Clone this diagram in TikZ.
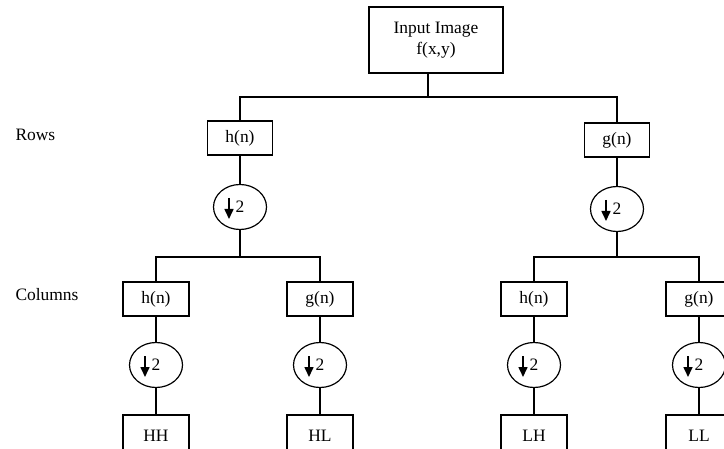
\documentclass[tikz,border=0pt]{standalone}
\usepackage{fontspec}
\setmainfont{Liberation Serif}
\usetikzlibrary{shapes.geometric,arrows.meta,calc}

\begin{document}
\begin{tikzpicture}[x=1bp,y=-1bp,
    font=\fontsize{17.5}{21}\selectfont,
    box/.style={draw,line width=1.2bp,minimum width=66bp,minimum height=34bp,inner sep=0pt},
    down/.style={draw,ellipse,line width=1.2bp,minimum width=53bp,minimum height=45bp,inner sep=0pt},
    wire/.style={line width=1.2bp}]
    \useasboundingbox (0,0) rectangle (724,449);
    \clip (0,0) rectangle (724,449);
    % input and labels
    \node[box,minimum width=134bp,minimum height=66bp,align=center] (in) at (436,40) {Input Image\\f(x,y)};
    \node[anchor=west] (rows) at (12,135) {Rows};
    \node[anchor=west] (cols) at (12,295) {Columns};
    % rows
    \node[box,minimum width=65bp] (rh) at (240,138) {h(n)};
    \node[box,minimum width=65bp] (rg) at (617,140) {g(n)};
    \node[down] (rhd) at (240,207) {2};
    \node[down] (rgd) at (617,209) {2};
    % columns
    \node[box] (ch1) at (156,299) {h(n)};
    \node[box] (cg1) at (320,299) {g(n)};
    \node[box] (ch2) at (534,299) {h(n)};
    \node[box] (cg2) at (699,299) {g(n)};
    \node[down] (ch1d) at (156,365) {2};
    \node[down] (cg1d) at (320,365) {2};
    \node[down] (ch2d) at (534,365) {2};
    \node[down] (cg2d) at (699,365) {2};
    % outputs
    \node[box,minimum height=42bp] (hh) at (156,436) {HH};
    \node[box,minimum height=42bp] (hl) at (320,436) {HL};
    \node[box,minimum height=42bp] (lh) at (534,436) {LH};
    \node[box,minimum height=42bp] (ll) at (699,436) {LL};
    % connectors
    \coordinate (j0) at (428,97);
    \coordinate (j1) at (240,257);
    \coordinate (j2) at (617,257);
    \draw[wire] (in.south -| j0) -- (j0);
    \draw[wire] (rh.north) |- (j0) -| (rg.north);
    \draw[wire] (rh) -- (rhd) -- (j1);
    \draw[wire] (rg) -- (rgd) -- (j2);
    \draw[wire] (ch1.north) |- (j1) -| (cg1.north);
    \draw[wire] (ch2.north) |- (j2) -| (cg2.north);
    \draw[wire] (ch1) -- (ch1d) -- (hh);
    \draw[wire] (cg1) -- (cg1d) -- (hl);
    \draw[wire] (ch2) -- (ch2d) -- (lh);
    \draw[wire] (cg2) -- (cg2d) -- (ll);
    % down arrows
    \foreach \d in {rhd,rgd,ch1d,cg1d,ch2d,cg2d}
        \draw[line width=1.6bp,-{Triangle[length=10bp,width=9bp]}] ($(\d.center)+(-11,-9)$) -- ($(\d.center)+(-11,12)$);
\end{tikzpicture}
\end{document}
